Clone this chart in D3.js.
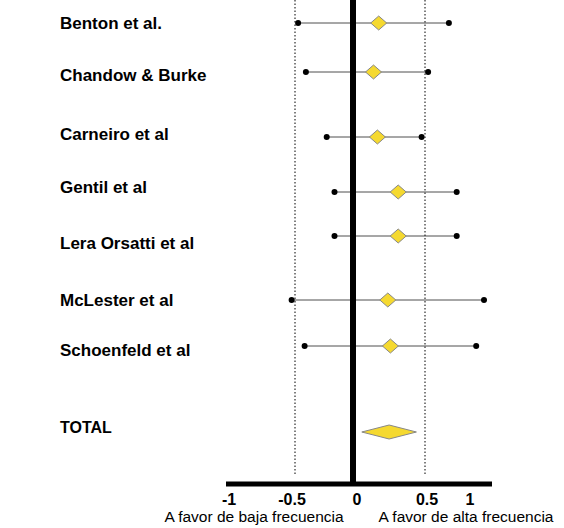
<!DOCTYPE html>
<html><head><meta charset="utf-8">
<script src="https://cdn.jsdelivr.net/npm/d3@7"></script>
<style>body{margin:0;background:#fff}</style>
</head><body><div id="chart"></div>
<script>
// study rows
var studies = ["Benton et al.", "Chandow & Burke", "Carneiro et al", "Gentil et al", "Lera Orsatti et al", "McLester et al", "Schoenfeld et al"];
var effect = [0.19, 0.15, 0.18, 0.34, 0.34, 0.26, 0.28];
var lower = [-0.43, -0.37, -0.21, -0.15, -0.15, -0.48, -0.38];
var upper = [0.73, 0.57, 0.52, 0.79, 0.79, 1.0, 0.94];
var rowY = [23, 72, 137, 192, 236, 300, 346];
var labelY = [23, 75, 134, 187, 243, 300, 350];
var total = {est: 0.27, lo: 0.06, hi: 0.48};
var ticks = [-1, -0.5, 0, 0.5, 1];

var svg = d3.select("#chart").append("svg").attr("width", 564).attr("height", 528);
var x = d3.scaleLinear().domain([-1, 1]).range([224, 484]);
var font = "Liberation Sans, Arial";

// dotted reference lines
[-0.5, 0.5].forEach(function(v) {
    svg.append("line").attr("x1", x(v) + 6 * Math.sign(v) * -1 + (v > 0 ? 12 : 0)).attr("x2", x(v) + 6 * Math.sign(v) * -1 + (v > 0 ? 12 : 0))
        .attr("y1", 0).attr("y2", 475)
        .attr("stroke", "#000").attr("stroke-width", 1).attr("stroke-dasharray", "1.5,2");
});

// CI lines and endpoints
studies.forEach(function(s, i) {
    svg.append("line").attr("x1", x(lower[i])).attr("x2", x(upper[i]))
        .attr("y1", rowY[i]).attr("y2", rowY[i]).attr("stroke", "#222").attr("stroke-width", 0.8);
    [lower[i], upper[i]].forEach(function(v) {
        svg.append("circle").attr("cx", x(v)).attr("cy", rowY[i]).attr("r", 3).attr("fill", "#000");
    });
    svg.append("text").attr("x", 60).attr("y", labelY[i]).attr("dy", "0.35em")
        .attr("font-family", font).attr("font-weight", "bold").attr("font-size", 17)
        .text(s);
});

// zero line (thick)
svg.append("line").attr("x1", x(0) - 1).attr("x2", x(0) - 1).attr("y1", 0).attr("y2", 484)
    .attr("stroke", "#000").attr("stroke-width", 6);

// study diamonds
studies.forEach(function(s, i) {
    var cx = x(effect[i]), cy = rowY[i];
    svg.append("path").attr("d", "M" + (cx - 8) + "," + cy + "L" + cx + "," + (cy - 7) + "L" + (cx + 8) + "," + cy + "L" + cx + "," + (cy + 7) + "Z")
        .attr("fill", "#f5d930").attr("stroke", "#888").attr("stroke-width", 1);
});

// total
svg.append("text").attr("x", 60).attr("y", 427).attr("dy", "0.35em")
    .attr("font-family", font).attr("font-weight", "bold").attr("font-size", 16).text("TOTAL");
var ty = 432;
svg.append("path").attr("d", "M" + x(total.lo) + "," + ty + "L" + x(total.est) + "," + (ty - 7) + "L" + x(total.hi) + "," + ty + "L" + x(total.est) + "," + (ty + 7) + "Z")
    .attr("fill", "#f5d930").attr("stroke", "#888").attr("stroke-width", 1);

// axis
svg.append("line").attr("x1", 226).attr("x2", 492).attr("y1", 484).attr("y2", 484)
    .attr("stroke", "#000").attr("stroke-width", 5);
var tickX = {"-1": 229, "-0.5": 292, "0": 357, "0.5": 427, "1": 470};
ticks.forEach(function(t) {
    svg.append("text").attr("x", tickX[String(t)]).attr("y", 505).attr("text-anchor", "middle")
        .attr("font-family", font).attr("font-weight", "bold").attr("font-size", 16).text(t);
});
svg.append("text").attr("x", 254).attr("y", 522).attr("text-anchor", "middle")
    .attr("font-family", font).attr("font-size", 15.5).text("A favor de baja frecuencia");
svg.append("text").attr("x", 466).attr("y", 522).attr("text-anchor", "middle")
    .attr("font-family", font).attr("font-size", 15.5).text("A favor de alta frecuencia");
</script></body></html>
